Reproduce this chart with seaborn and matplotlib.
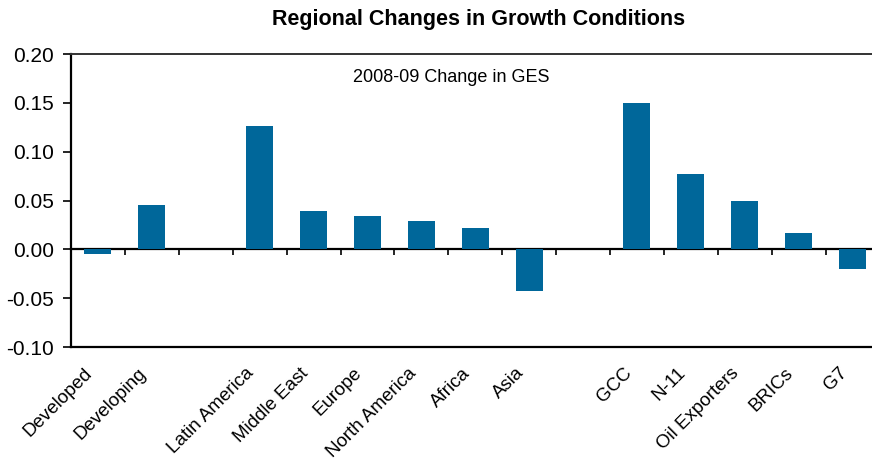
import numpy as np
import matplotlib
matplotlib.use("Agg")
import matplotlib.pyplot as plt
import matplotlib.transforms as mtransforms
import seaborn as sns

# values (2008-09 change in GES)
categories = ["Developed", "Developing", "Latin America", "Middle East", "Europe",
              "North America", "Africa", "Asia", "GCC", "N-11", "Oil Exporters",
              "BRICs", "G7"]
values = [-0.005, 0.045, 0.126, 0.039, 0.034, 0.029, 0.022, -0.043,
          0.150, 0.077, 0.049, 0.017, -0.020]
# blank slots separate the three groups
order = categories[:2] + [" "] + categories[2:8] + ["  "] + categories[8:]
yticks = [-0.10, -0.05, 0.00, 0.05, 0.10, 0.15, 0.20]

sns.set_theme(style="white")
plt.rcParams["font.family"] = ["Liberation Sans", "DejaVu Sans"]

fig = plt.figure(figsize=(8.72, 4.72), dpi=100)
ax = fig.add_axes([71 / 872, 1 - 347 / 472, 1 - 71 / 872, (347 - 54) / 472])

sns.barplot(x=categories, y=values, order=order, color="#00679A",
            saturation=1, width=0.5, linewidth=0, ax=ax)

ax.set_ylim(-0.10, 0.20)
ax.set_xlim(-0.5, -0.5 + (872 - 71) / 53.9)
ax.set_yticks(yticks)
ax.set_yticklabels([f"{t:.2f}" for t in yticks], fontsize=15, color="black")
ax.tick_params(axis="y", direction="out", length=6, width=1.2, color="black",
               left=True, pad=6)
ax.set_xticks(range(len(order)))
ax.set_xticklabels(order, rotation=45, ha="right", va="center",
                   rotation_mode="anchor", fontsize=13.5, color="black")
ax.tick_params(axis="x", length=0, pad=14)
# nudge the slanted labels a little left and down
shift = mtransforms.ScaledTranslation(-8 / 100, -4 / 100, fig.dpi_scale_trans)
for lab in ax.get_xticklabels():
    lab.set_transform(lab.get_transform() + shift)
ax.set_xlabel("")
ax.set_ylabel("")

for side in ["left", "bottom"]:
    ax.spines[side].set_color("black")
    ax.spines[side].set_linewidth(1.6)
ax.spines["top"].set_color("#333333")
ax.spines["top"].set_linewidth(1.4)
ax.spines["right"].set_visible(False)

# zero line with category separator ticks
zero = ax.secondary_xaxis(1 / 3)
zero.set_xticks(np.arange(len(order) - 1) + 0.5)
zero.set_xticklabels([])
zero.tick_params(direction="out", length=4, width=1.2, color="black")
zero.spines["bottom"].set_linewidth(1.6)
zero.spines["bottom"].set_color("black")

ax.text((451 - 71) / 801, (347 - 77) / 293, "2008-09 Change in GES",
        transform=ax.transAxes, ha="center", va="center", fontsize=13,
        color="black")
fig.suptitle("Regional Changes in Growth Conditions", x=479 / 872, y=1 - 20 / 472,
             va="center", fontsize=15.5, fontweight="bold", color="black")

fig.savefig("out.png", dpi=100)
